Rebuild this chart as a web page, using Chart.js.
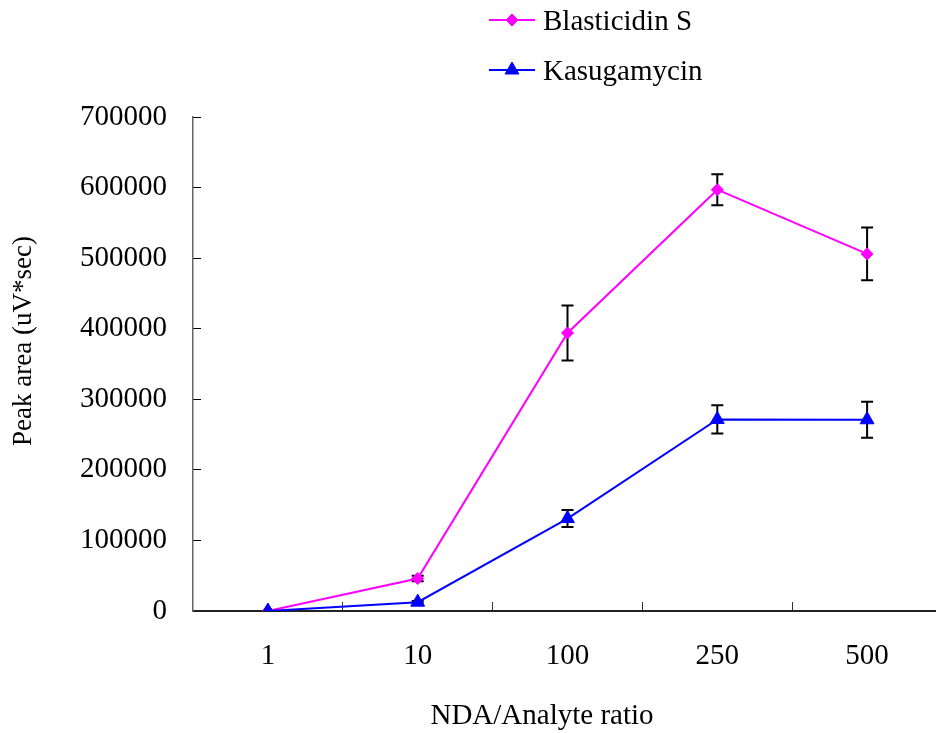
<!DOCTYPE html>
<html>
<head>
<meta charset="utf-8">
<script src="https://cdn.jsdelivr.net/npm/chart.js@4/dist/chart.umd.min.js"></script>
<style>
  html, body { margin: 0; padding: 0; background: #fff; overflow: hidden; width: 936px; height: 733px; }
  #wrap { position: absolute; left: 0; top: 0; width: 951px; height: 733px; }
  #c { display: block; width: 951px; height: 733px; }
</style>
</head>
<body>
<div id="wrap"><canvas id="c" width="951" height="733"></canvas></div>
<script>
const categories = ['1', '10', '100', '250', '500'];
const blasticidin = [0, 46000, 394000, 597000, 506000];
const blasticidinErr = [0, 4000, 39000, 22000, 37500];
const kasugamycin = [0, 12500, 131000, 271500, 271000];
const kasugamycinErr = [0, 1500, 12000, 20000, 25500];
const yMin = 0, yMax = 700000, yStep = 100000;
const xTitle = 'NDA/Analyte ratio';
const yTitle = 'Peak area (uV*sec)';
const FONT = '"Liberation Serif", "Times New Roman", serif';

const errorBars = {
  id: 'errorBars',
  beforeDatasetsDraw(chart) {
    const ctx = chart.ctx, ys = chart.scales.y;
    ctx.save();
    ctx.strokeStyle = '#000';
    ctx.lineWidth = 2;
    chart.data.datasets.forEach((ds, di) => {
      const meta = chart.getDatasetMeta(di);
      (ds.errors || []).forEach((e, i) => {
        if (!e) return;
        const x = meta.data[i].x;
        const t = ys.getPixelForValue(ds.data[i] + e);
        const b = ys.getPixelForValue(ds.data[i] - e);
        ctx.beginPath();
        ctx.moveTo(x, t); ctx.lineTo(x, b);
        ctx.moveTo(x - 6, t); ctx.lineTo(x + 6, t);
        ctx.moveTo(x - 6, b); ctx.lineTo(x + 6, b);
        ctx.stroke();
      });
    });
    ctx.restore();
  }
};

function drawMarker(ctx, style, r, x, y, color) {
  ctx.fillStyle = color; ctx.strokeStyle = color; ctx.lineWidth = 1;
  ctx.beginPath();
  if (style === 'rectRot') {
    ctx.moveTo(x, y - r); ctx.lineTo(x + r, y); ctx.lineTo(x, y + r); ctx.lineTo(x - r, y);
  } else {
    const s = r * Math.sqrt(3) / 2;
    ctx.moveTo(x, y - r); ctx.lineTo(x + s, y + r / 2); ctx.lineTo(x - s, y + r / 2);
  }
  ctx.closePath(); ctx.fill(); ctx.stroke();
}

const customLegend = {
  id: 'customLegend',
  afterDraw(chart) {
    const ctx = chart.ctx;
    ctx.save();
    const rows = [20, 70];
    chart.data.datasets.forEach((ds, i) => {
      const y = rows[i];
      ctx.strokeStyle = ds.borderColor; ctx.lineWidth = 2;
      ctx.beginPath(); ctx.moveTo(489, y); ctx.lineTo(535, y); ctx.stroke();
      drawMarker(ctx, ds.pointStyle, ds.pointRadius, 512, y, ds.borderColor);
      ctx.fillStyle = '#000';
      ctx.font = '29px ' + FONT;
      ctx.textAlign = 'left'; ctx.textBaseline = 'middle';
      ctx.fillText(ds.label, 543, y + 2);
    });
    ctx.restore();
  }
};

const axisTitles = {
  id: 'axisTitles',
  afterDraw(chart) {
    const ctx = chart.ctx;
    ctx.save();
    ctx.fillStyle = '#000';
    ctx.font = '29px ' + FONT;
    ctx.textAlign = 'center'; ctx.textBaseline = 'middle';
    ctx.fillText(xTitle, 542, 716);
    ctx.translate(24, 341);
    ctx.rotate(-Math.PI / 2);
    ctx.font = '27px ' + FONT;
    ctx.fillText(yTitle, 0, 0);
    ctx.restore();
  }
};

new Chart(document.getElementById('c'), {
  type: 'line',
  data: {
    labels: categories,
    datasets: [
      {
        label: 'Blasticidin S', data: blasticidin, errors: blasticidinErr,
        borderColor: '#FF00FF', backgroundColor: '#FF00FF', borderWidth: 2,
        pointStyle: 'rectRot', pointRadius: 6, pointBorderWidth: 1, order: 1, tension: 0
      },
      {
        label: 'Kasugamycin', data: kasugamycin, errors: kasugamycinErr,
        borderColor: '#0000FF', backgroundColor: '#0000FF', borderWidth: 2,
        pointStyle: 'triangle', pointRadius: 8, pointBorderWidth: 1, order: 0, tension: 0
      }
    ]
  },
  options: {
    responsive: false,
    animation: false,
    devicePixelRatio: 1,
    layout: { padding: { top: 117, left: 0, right: 0, bottom: 0 } },
    plugins: { legend: { display: false }, tooltip: { enabled: false } },
    scales: {
      x: {
        type: 'category',
        offset: true,
        grid: { offset: true, drawOnChartArea: false, drawTicks: true, tickLength: -9, color: '#333', lineWidth: 1 },
        border: { display: true, color: '#222', width: 2 },
        ticks: { color: '#000', font: { family: FONT, size: 29 }, padding: 37, maxRotation: 0, autoSkip: false },
        afterFit(s) { s.height = 122; }
      },
      y: {
        min: yMin, max: yMax,
        grid: { drawOnChartArea: false, drawTicks: true, tickLength: -8, color: '#000', lineWidth: 1 },
        border: { display: true, color: '#666', width: 1.5 },
        ticks: { stepSize: yStep, color: '#000', font: { family: FONT, size: 29 }, padding: 34,
                 callback: v => String(v) },
        afterFit(s) { s.width = 193; }
      }
    }
  },
  plugins: [errorBars, customLegend, axisTitles]
});
</script>
</body>
</html>
